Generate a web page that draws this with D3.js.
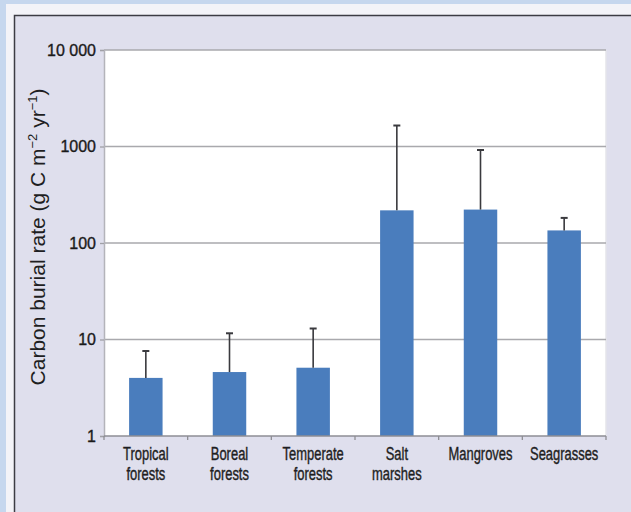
<!DOCTYPE html>
<html>
<head>
<meta charset="utf-8">
<script src="https://cdn.jsdelivr.net/npm/d3@7"></script>
<style>
  body { margin: 0; background: #c6d7ee; }
  svg { display: block; }
</style>
</head>
<body>
<div id="chart"></div>
<script>
// values
const categories = [
    ['Tropical', 'forests'],
    ['Boreal', 'forests'],
    ['Temperate', 'forests'],
    ['Salt', 'marshes'],
    ['Mangroves'],
    ['Seagrasses']
];
const burialRate = [4, 4.6, 5.1, 218, 222, 135];
const upperError = [7.6, 11.6, 13, 1650, 920, 182];
const tickValues = [1, 10, 100, 1000, 10000];
const tickLabels = ['1', '10', '100', '1000', '10 000'];

function createBarChart(container) {
    const W = 631, H = 512;
    const plot = {left: 104, right: 606, top: 50, bottom: 436};

    const svg = d3.select(container)
        .append('svg')
        .attr('width', W)
        .attr('height', H);

    // panel background
    svg.append('rect')
        .attr('x', 6).attr('y', 4)
        .attr('width', W - 6).attr('height', H - 4)
        .attr('fill', '#f3f3f8');
    svg.append('rect')
        .attr('x', 14).attr('y', 15)
        .attr('width', W - 14).attr('height', H - 15)
        .attr('fill', '#dfdfed');
    svg.append('path')
        .attr('d', `M14.5,${H} V15.5 H${W}`)
        .attr('fill', 'none')
        .attr('stroke', '#3c3c44')
        .attr('stroke-width', 1.5);

    const keys = categories.map(c => c.join(' '));
    const x = d3.scaleBand()
        .domain(keys)
        .range([plot.left, plot.right])
        .paddingInner(0.6)
        .paddingOuter(0.3);
    const y = d3.scaleLog()
        .domain([1, 10000])
        .range([plot.bottom, plot.top]);

    svg.append('rect')
        .attr('x', plot.left).attr('y', plot.top)
        .attr('width', plot.right - plot.left)
        .attr('height', plot.bottom - plot.top)
        .attr('fill', '#ffffff');
    // right edge of plot
    svg.append('line')
        .attr('x1', plot.right).attr('x2', plot.right)
        .attr('y1', plot.top).attr('y2', plot.bottom)
        .attr('stroke', '#e4e4ea').attr('stroke-width', 1.5);

    // gridlines
    svg.append('g')
        .selectAll('line')
        .data(tickValues.slice(1))
        .enter().append('line')
        .attr('x1', plot.left).attr('x2', plot.right)
        .attr('y1', d => y(d)).attr('y2', d => y(d))
        .attr('stroke', '#a9a9ad')
        .attr('stroke-width', 1.6);

    // y axis
    const yAxis = svg.append('g')
        .attr('transform', `translate(${plot.left},0)`)
        .call(d3.axisLeft(y)
            .tickValues(tickValues)
            .tickFormat((d, i) => tickLabels[i])
            .tickSize(4)
            .tickPadding(4));
    yAxis.select('.domain').attr('stroke', '#b4b4ba').attr('stroke-width', 1.5);
    yAxis.selectAll('.tick line').attr('stroke', '#a0a0a6').attr('stroke-width', 1.3);
    yAxis.selectAll('.tick text')
        .attr('fill', '#1a1a1a')
        .attr('stroke', '#1a1a1a')
        .attr('stroke-width', 0.35)
        .style('font-family', 'Liberation Sans, Arial, sans-serif')
        .style('font-size', '16px');

    // bars
    svg.append('g')
        .selectAll('rect')
        .data(burialRate)
        .enter().append('rect')
        .attr('x', (d, i) => x(keys[i]))
        .attr('y', d => y(d))
        .attr('width', x.bandwidth())
        .attr('height', d => plot.bottom - y(d))
        .attr('fill', '#4a7dbd');

    // error bars
    const err = svg.append('g')
        .attr('stroke', '#3a3a3e')
        .attr('stroke-width', 1.6);
    upperError.forEach((e, i) => {
        const cx = x(keys[i]) + x.bandwidth() / 2;
        err.append('line')
            .attr('x1', cx).attr('x2', cx)
            .attr('y1', y(burialRate[i])).attr('y2', y(e));
        err.append('line')
            .attr('x1', cx - 3.5).attr('x2', cx + 3.5)
            .attr('y1', y(e)).attr('y2', y(e))
            .attr('stroke-width', 2);
    });

    // x axis with ticks between categories
    const step = x.step();
    const boundaries = d3.range(categories.length + 1).map(i => plot.left + i * step);
    const xAxis = svg.append('g');
    xAxis.append('line')
        .attr('x1', plot.left).attr('x2', plot.right)
        .attr('y1', plot.bottom).attr('y2', plot.bottom)
        .attr('stroke', '#8e8e94').attr('stroke-width', 1.6);
    xAxis.selectAll('.btick')
        .data(boundaries)
        .enter().append('line')
        .attr('class', 'btick')
        .attr('x1', d => d).attr('x2', d => d)
        .attr('y1', plot.bottom).attr('y2', plot.bottom + 4)
        .attr('stroke', '#8e8e94').attr('stroke-width', 1.3);

    // condensed category labels (no narrow font installed, so squeeze horizontally)
    const labels = svg.append('g')
        .style('font-family', 'Liberation Sans, Arial, sans-serif')
        .style('font-size', '18.5px')
        .attr('fill', '#1e1e22')
        .attr('stroke', '#1e1e22')
        .attr('stroke-width', 0.4)
        .attr('text-anchor', 'middle');
    categories.forEach((lines, i) => {
        const cx = x(keys[i]) + x.bandwidth() / 2;
        const t = labels.append('text')
            .attr('transform', `translate(${cx},460) scale(0.7,1)`);
        lines.forEach((ln, j) => {
            t.append('tspan')
                .attr('x', 0)
                .attr('dy', j === 0 ? 0 : 20)
                .text(ln);
        });
    });

    // y axis label
    const yl = svg.append('text')
        .attr('transform', 'rotate(-90)')
        .attr('x', -237)
        .attr('y', 45)
        .attr('text-anchor', 'middle')
        .attr('fill', '#1e1e22')
        .style('font-family', 'Liberation Sans, Arial, sans-serif')
        .style('font-size', '21px');
    yl.append('tspan').text('Carbon burial rate (g C m');
    yl.append('tspan').attr('dy', -8).style('font-size', '13px').text('\u22122');
    yl.append('tspan').attr('dy', 8).text(' yr');
    yl.append('tspan').attr('dy', -8).style('font-size', '13px').text('\u22121');
    yl.append('tspan').attr('dy', 8).text(')');
}

createBarChart('#chart');
</script>
</body>
</html>
